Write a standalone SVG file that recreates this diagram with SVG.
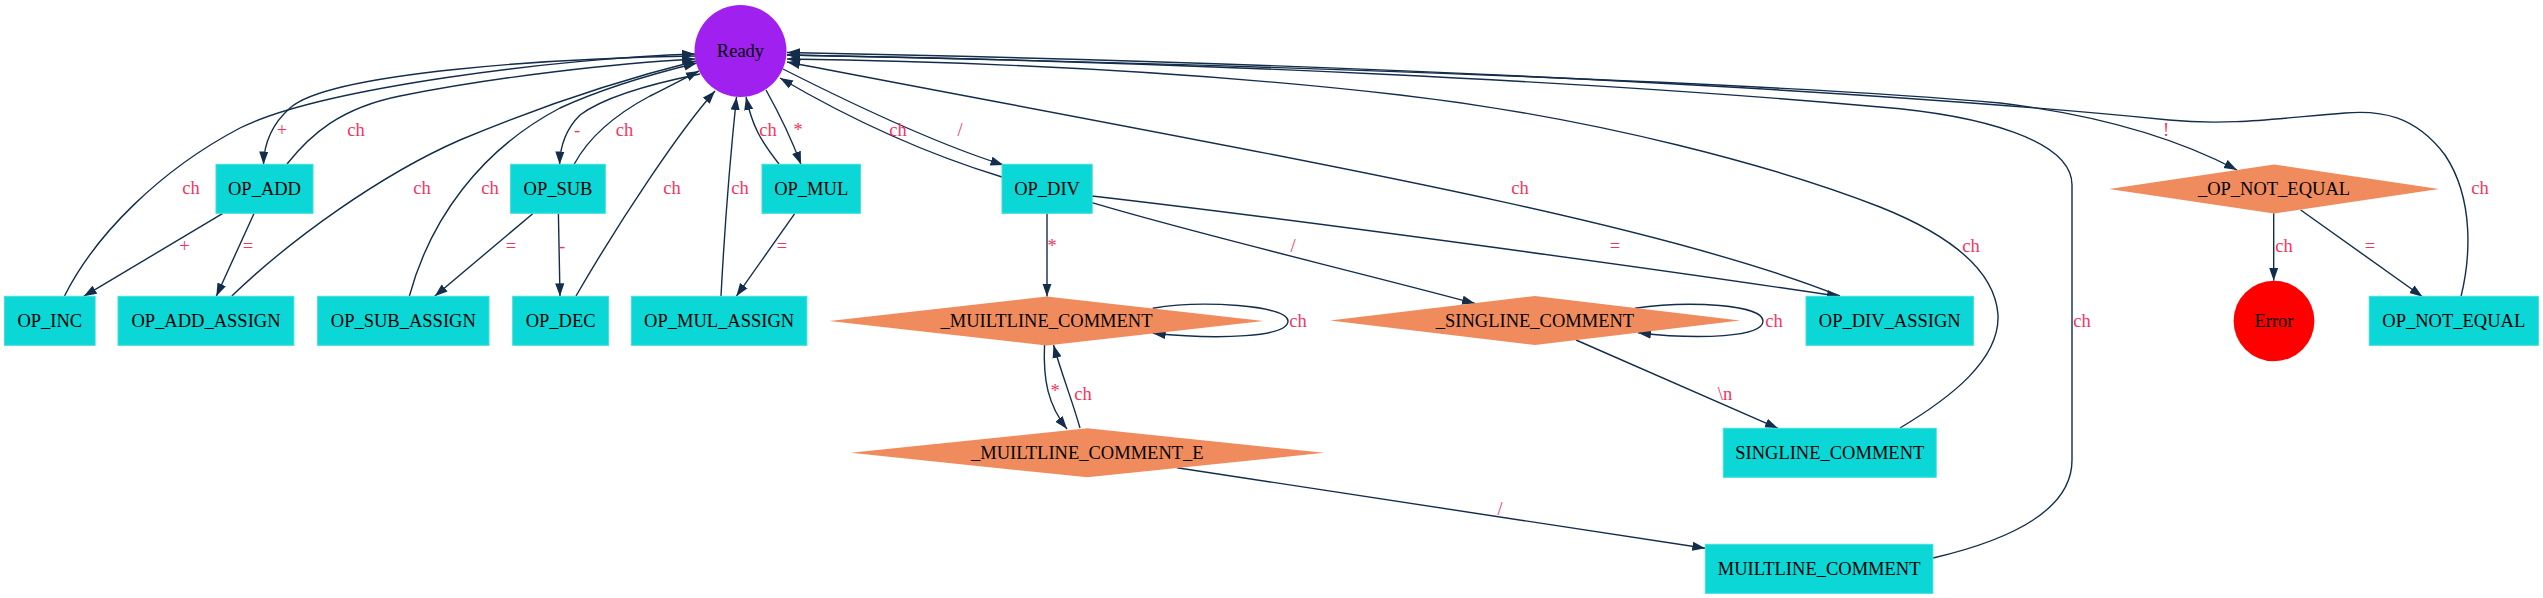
<svg xmlns="http://www.w3.org/2000/svg" width="2543" height="598" viewBox="0 0 2543 598">
<style>
.box{fill:#0bd8d6;stroke:#3fdedb;stroke-width:1}
.dia{fill:#f08b5e;stroke:none}
.nt{font-family:"Liberation Serif","Times New Roman",serif;font-size:18.5px;fill:#000;text-anchor:middle}
.e{fill:none;stroke:#132d4b;stroke-width:1.4}
.ea{fill:none;stroke:#132d4b;stroke-width:1.4;marker-end:url(#ah)}
.lb{font-family:"Liberation Serif","Times New Roman",serif;font-size:18.5px;fill:#f5335f;text-anchor:middle}
</style>
<defs>
<marker id="ah" markerWidth="14" markerHeight="10" refX="13" refY="5" orient="auto" markerUnits="userSpaceOnUse">
<path d="M0,0.4 L13,5 L0,9.6 z" fill="#132d4b"/>
</marker>
</defs>
<rect width="2543" height="598" fill="#fff"/>
<g id="connectors">
<path class="ea" d="M696,56 C560,58 330,72 290,108 C272,124 264,142 263.5,164.5"/>
<text class="lb" x="282" y="135.5">+</text>
<path class="ea" d="M287,164 C310,135 340,108 400,96 C500,76 620,63 695,59"/>
<text class="lb" x="356" y="135.5">ch</text>
<path class="ea" d="M64.5,296 C95,235 160,170 240,128 C320,88 560,58 695,54"/>
<text class="lb" x="191" y="194">ch</text>
<path class="ea" d="M231.8,296 C290,240 380,175 460,140 C560,98 640,75 696,61"/>
<text class="lb" x="422" y="194">ch</text>
<path class="ea" d="M409.4,296 C430,220 480,150 560,108 C610,85 660,72 697,63"/>
<text class="lb" x="490" y="194">ch</text>
<path class="ea" d="M700,74 C640,86 600,100 580,115 C565,130 560,148 559.6,164.5"/>
<text class="lb" x="577" y="135.5">-</text>
<path class="ea" d="M574.3,164 C590,135 620,112 650,96 C670,86 685,78 699,71"/>
<text class="lb" x="624.5" y="135.5">ch</text>
<path class="ea" d="M576,296 C620,220 680,130 715,91"/>
<text class="lb" x="672" y="194">ch</text>
<path class="ea" d="M721,296 C725,220 732,140 736.5,97"/>
<text class="lb" x="740" y="194">ch</text>
<path class="ea" d="M779,164 C760,140 752,125 746,97"/>
<text class="lb" x="768" y="135.5">ch</text>
<path class="ea" d="M766,90 C780,115 793,143 801,164.5"/>
<text class="lb" x="798" y="135.5">*</text>
<path class="ea" d="M783,69 C860,108 940,145 1003.5,165"/>
<text class="lb" x="960" y="135.5">/</text>
<path class="ea" d="M1002,177 C930,155 860,125 780,78"/>
<text class="lb" x="898" y="135.5">ch</text>
<path class="ea" d="M1047,213.5 L1047,296.5"/>
<text class="lb" x="1052" y="251.5">*</text>
<path class="ea" d="M1092,202.7 C1200,235 1350,270 1475,303.5"/>
<text class="lb" x="1293" y="251.5">/</text>
<path class="ea" d="M1092,196 C1300,220 1650,268 1840,296.5"/>
<text class="lb" x="1615" y="251.5">=</text>
<path class="ea" d="M1840,296 C1650,220 1300,160 787,62"/>
<text class="lb" x="1520" y="194">ch</text>
<path class="ea" d="M1900,428 C1950,398 2000,360 1998,315 C1995,270 1950,235 1880,207 C1780,168 1600,118 1400,95 C1200,72 1000,62 787,59"/>
<text class="lb" x="1971" y="251.5">ch</text>
<path class="ea" d="M1933,558 C2010,540 2072,510 2072,460 L2072,185 C2072,140 1980,115 1880,107 C1600,82 1200,62 787,55"/>
<text class="lb" x="2082" y="327">ch</text>
<path class="ea" d="M2461,296.5 C2470,260 2475,200 2445,155 C2415,115 2380,110 2345,113 C2280,118 2230,126 2169,120 C2050,108 1600,68 787,52.5"/>
<text class="lb" x="2480" y="194">ch</text>
<path class="ea" d="M787,55 C1300,65 1800,85 2000,103 C2100,115 2180,140 2237,170"/>
<text class="lb" x="2166" y="135.5">!</text>
<path class="ea" d="M2273.7,213.3 L2273.7,280.7"/>
<text class="lb" x="2284" y="251.5">ch</text>
<path class="ea" d="M2300.7,210 L2422.5,296.7"/>
<text class="lb" x="2370" y="251.5">=</text>
<path class="ea" d="M222.4,213.7 L83.7,296.3"/>
<text class="lb" x="184.5" y="251.5">+</text>
<path class="ea" d="M253.9,213.7 L216.3,296.3"/>
<text class="lb" x="248" y="251.5">=</text>
<path class="ea" d="M532.7,213.7 L434.7,296.3"/>
<text class="lb" x="511" y="251.5">=</text>
<path class="ea" d="M558.4,213.7 L560,296.3"/>
<text class="lb" x="562" y="251.5">-</text>
<path class="ea" d="M794.7,213.7 L736.3,296.3"/>
<text class="lb" x="782" y="251.5">=</text>
<path class="ea" d="M1152.7,308.3 C1200,300 1288,305 1288,321 C1288,337 1220,340 1152.7,333.3"/>
<text class="lb" x="1298" y="327">ch</text>
<path class="ea" d="M1635,308.3 C1690,300 1763,305 1763,321 C1763,337 1700,340 1638,332.7"/>
<text class="lb" x="1774" y="327">ch</text>
<path class="ea" d="M1044.5,345 C1043,380 1048,405 1067,429"/>
<text class="lb" x="1055" y="397">*</text>
<path class="ea" d="M1080,428 C1072,400 1062,375 1053.5,345"/>
<text class="lb" x="1083" y="400">ch</text>
<path class="ea" d="M1177,467.7 L1705.3,548.3"/>
<text class="lb" x="1500" y="515">/</text>
<path class="ea" d="M1576,340 L1778,428.3"/>
<text class="lb" x="1725" y="400">\n</text>
</g>
<g id="Ready"><circle cx="740.5" cy="51" r="46" fill="#a020f0"/><text class="nt" x="740.5" y="57">Ready</text></g>
<g id="OP_ADD"><rect class="box" x="216" y="164.3" width="97" height="49"/><text class="nt" x="264.5" y="194.8">OP_ADD</text></g>
<g id="OP_SUB"><rect class="box" x="510.6" y="164.3" width="94.7" height="49"/><text class="nt" x="558" y="194.8">OP_SUB</text></g>
<g id="OP_MUL"><rect class="box" x="762" y="164.3" width="98.4" height="49"/><text class="nt" x="811.2" y="194.8">OP_MUL</text></g>
<g id="OP_DIV"><rect class="box" x="1002" y="164.3" width="90.2" height="49"/><text class="nt" x="1047.1" y="194.8">OP_DIV</text></g>
<g id="OP_INC"><rect class="box" x="4.5" y="296.3" width="90.6" height="49"/><text class="nt" x="49.8" y="326.8">OP_INC</text></g>
<g id="OP_ADD_ASSIGN"><rect class="box" x="118" y="296.3" width="175.9" height="49"/><text class="nt" x="206" y="326.8">OP_ADD_ASSIGN</text></g>
<g id="OP_SUB_ASSIGN"><rect class="box" x="317.6" y="296.3" width="171.4" height="49"/><text class="nt" x="403.3" y="326.8">OP_SUB_ASSIGN</text></g>
<g id="OP_DEC"><rect class="box" x="512.7" y="296.3" width="95.9" height="49"/><text class="nt" x="560.6" y="326.8">OP_DEC</text></g>
<g id="OP_MUL_ASSIGN"><rect class="box" x="631.4" y="296.3" width="175.5" height="49"/><text class="nt" x="719.1" y="326.8">OP_MUL_ASSIGN</text></g>
<g id="_MUILTLINE_COMMENT"><polygon class="dia" points="829.5,321 1046.5,296.5 1263.5,321 1046.5,345.5"/><text class="nt" x="1046.5" y="327">_MUILTLINE_COMMENT</text></g>
<g id="_SINGLINE_COMMENT"><polygon class="dia" points="1330,320.5 1535,296 1740,320.5 1535,345"/><text class="nt" x="1535" y="326.5">_SINGLINE_COMMENT</text></g>
<g id="OP_DIV_ASSIGN"><rect class="box" x="1806" y="296.3" width="167.4" height="49"/><text class="nt" x="1889.7" y="326.8">OP_DIV_ASSIGN</text></g>
<g id="_MUILTLINE_COMMENT_E"><polygon class="dia" points="850.6,452.8 1087.3,428.3 1324,452.8 1087.3,477.3"/><text class="nt" x="1087.3" y="458.8">_MUILTLINE_COMMENT_E</text></g>
<g id="SINGLINE_COMMENT"><rect class="box" x="1723.3" y="428.3" width="212.9" height="49"/><text class="nt" x="1829.8" y="458.8">SINGLINE_COMMENT</text></g>
<g id="MUILTLINE_COMMENT"><rect class="box" x="1705.3" y="544.3" width="227.6" height="49"/><text class="nt" x="1819.1" y="574.8">MUILTLINE_COMMENT</text></g>
<g id="_OP_NOT_EQUAL"><polygon class="dia" points="2109,189 2274,164.5 2439,189 2274,213.5"/><text class="nt" x="2274" y="195">_OP_NOT_EQUAL</text></g>
<g id="Error"><ellipse cx="2274" cy="321" rx="40.4" ry="40.3" fill="#ff0000"/><text class="nt" x="2274" y="327">Error</text></g>
<g id="OP_NOT_EQUAL"><rect class="box" x="2369.2" y="296.3" width="169.2" height="49"/><text class="nt" x="2453.8" y="326.8">OP_NOT_EQUAL</text></g>
</svg>
